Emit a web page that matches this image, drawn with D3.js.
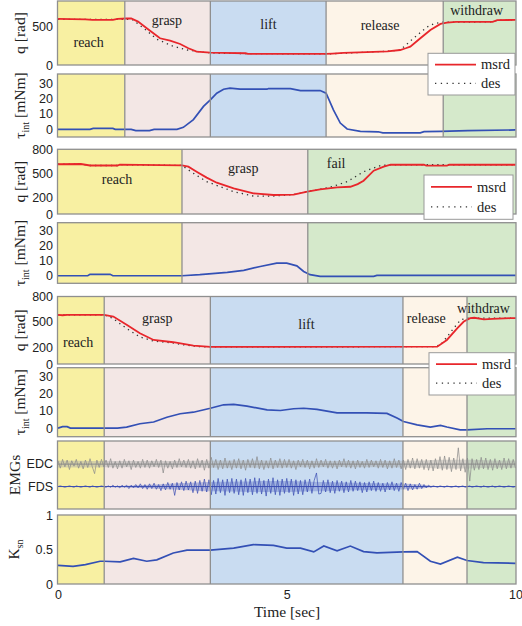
<!DOCTYPE html>
<html><head><meta charset="utf-8">
<script src="https://cdn.jsdelivr.net/npm/d3@7"></script>
<style>
html,body{margin:0;padding:0;background:#fff;}
svg{display:block;}
</style></head>
<body><svg id="c" width="522" height="626"></svg>
<script>
// ---------------- DATA ----------------
const timeTicks = [0, 5, 10];
const qTicksTop = [0, 500];
const qTicks = [0, 200, 500, 800];
const tauTicks = [0, 10, 20, 30];
const kTicks = [0, 0.5, 1];

const trial1Phases = [["reach",0,1.46],["grasp",1.46,3.33],["lift",3.33,5.86],["release",5.86,8.42],["withdraw",8.42,10]];
const trial2Phases = [["reach",0,2.71],["grasp",2.71,5.46],["fail",5.46,10]];
const trial3Phases = [["reach",0,1.01],["grasp",1.01,3.33],["lift",3.33,7.54],["release",7.54,8.94],["withdraw",8.94,10]];

const q1Msrd = [[0,605],[0.6,600],[0.75,592],[1.2,592],[1.3,605],[1.5,610],[1.6,612],[1.75,570],[1.94,483],[2.1,410],[2.23,351],[2.45,320],[2.67,276],[2.85,220],[3.03,175],[3.33,162],[3.6,158],[4.1,154],[4.15,145],[5.0,145],[5.86,145],[6.0,150],[6.24,160],[6.75,168],[7.2,180],[7.48,197],[7.6,220],[7.7,241],[7.92,351],[8.14,460],[8.36,540],[8.5,557],[8.7,566],[9.5,566],[9.6,588],[10,592]];
const q1Des = [[0,600],[1.5,600],[1.64,592],[1.9,470],[2.16,338],[2.5,250],[2.82,197],[3.18,167],[3.5,154],[4.15,150],[5.86,145],[6.75,168],[7.2,180],[7.48,197],[7.77,351],[8.07,500],[8.21,540],[8.4,562],[9.5,566],[9.6,588],[10,592]];
const q2Msrd = [[0,615],[0.5,618],[0.7,600],[1.3,600],[1.35,610],[2.71,600],[2.85,585],[3.03,523],[3.25,450],[3.47,387],[3.84,317],[4.27,256],[4.71,235],[5.15,240],[5.45,276],[5.73,305],[6.1,329],[6.39,337],[6.55,370],[6.68,412],[6.9,536],[7.12,585],[7.27,609],[8.0,609],[8.05,597],[8.5,597],[8.55,609],[10,609]];
const q2Des = [[0,615],[0.5,618],[0.7,600],[1.3,600],[1.35,610],[2.71,600],[2.96,503],[3.25,400],[3.84,276],[4.27,222],[4.71,222],[5.15,240],[5.45,276],[5.66,297],[6.0,340],[6.32,400],[6.68,523],[7.05,600],[7.3,609],[10,609]];
const q3Msrd = [[0,583],[0.1,578],[0.2,583],[1.01,583],[1.21,563],[1.5,464],[1.79,365],[2.09,285],[2.52,258],[2.96,218],[3.33,202],[8.29,206],[8.5,285],[8.73,424],[8.87,503],[9.01,543],[9.1,548],[9.31,530],[9.5,535],[9.9,543],[10,543]];
const q3Des = [[0,583],[1.01,583],[1.2,540],[1.5,420],[1.79,320],[2.1,270],[2.5,250],[2.7,230],[3.1,205],[3.33,202],[8.2,206],[8.36,225],[8.5,320],[8.65,424],[8.8,523],[8.94,543],[10,543]];

const tau1 = [[0,0],[0.7,0],[0.77,0.6],[1.2,0.6],[1.25,0],[1.6,0],[1.7,-0.8],[2.0,-0.8],[2.1,0],[2.6,0],[2.74,1.3],[2.96,6.3],[3.18,14.9],[3.33,19.2],[3.47,23.5],[3.62,26.1],[3.76,26.8],[3.98,26.1],[4.57,26.1],[4.6,26.5],[5.08,26.5],[5.3,25.2],[5.73,25.2],[5.86,23.5],[6.02,12.7],[6.17,4.1],[6.32,0.2],[6.61,-1.3],[7.0,-1.6],[7.1,-2.3],[7.92,-2.3],[8.0,-1.5],[8.37,-1.3],[8.96,-0.8],[10,-0.4]];
const tau2 = [[0,0],[0.65,0],[0.7,0.9],[1.14,0.9],[1.2,0],[2.71,0],[3.1,0.7],[3.7,2.2],[4.06,3.5],[4.42,6.1],[4.78,8.3],[5.0,8.3],[5.22,6.5],[5.37,2.8],[5.51,0.7],[5.73,-0.4],[6.9,-0.4],[6.97,0.2],[10,0.2]];
const tau3 = [[0,0],[0.1,0.8],[0.2,0.8],[0.27,0],[1.3,0],[1.5,0.6],[1.79,2.5],[2.09,3.5],[2.38,6.3],[2.67,8.3],[2.96,9.2],[3.33,11.5],[3.62,13.5],[3.84,13.7],[4.13,12.7],[4.57,10.6],[4.86,10.2],[5.15,11.2],[5.37,11.5],[5.66,10.8],[6.1,8.8],[6.75,8.8],[7.19,8.5],[7.41,5.8],[7.55,3.8],[7.85,1.9],[8.14,0.6],[8.36,1.5],[8.5,0.6],[8.79,-1],[8.94,-1],[9.38,-0.4],[10,-0.4]];

const kSn = [[0,0.27],[0.33,0.255],[0.6,0.28],[0.92,0.33],[1.01,0.33],[1.36,0.32],[1.65,0.37],[1.94,0.33],[2.16,0.35],[2.52,0.45],[2.82,0.49],[3.33,0.49],[3.84,0.52],[4.27,0.57],[4.71,0.56],[5.0,0.52],[5.3,0.52],[5.59,0.465],[5.81,0.55],[6.1,0.48],[6.39,0.55],[6.68,0.47],[6.97,0.45],[7.55,0.465],[7.85,0.47],[8.14,0.33],[8.36,0.29],[8.73,0.39],[8.94,0.34],[9.3,0.31],[10,0.3]];

// EMG: envelope (every 0.5 s) and sampled trace (every 0.05 s, hundredths of the panel height), read approximately
const emgEnvTime = [0,0.5,1,1.5,2,2.5,3,3.5,4,4.5,5,5.5,6,6.5,7,7.5,8,8.2,8.5,9,9.5,10];
const edcEnv = [0.05,0.05,0.045,0.045,0.045,0.045,0.05,0.055,0.055,0.055,0.05,0.045,0.045,0.045,0.045,0.05,0.055,0.06,0.065,0.065,0.055,0.055];
const fdsEnv = [0.004,0.004,0.006,0.012,0.025,0.045,0.06,0.07,0.075,0.08,0.08,0.07,0.065,0.055,0.05,0.045,0.025,0.008,0.004,0.004,0.004,0.004];
const edcTrace = [5,-6,7,-4,6,-8,5,-3,7,-6,4,-7,6,-5,8,-4,-14,6,-5,7,
 -4,6,-5,8,-6,4,-7,5,-6,7,-4,5,-8,6,-5,4,-6,7,-5,6,
 -6,5,-4,7,-5,6,-13,5,-6,4,-7,6,-5,8,-4,6,-5,7,-6,5,
 -7,8,-5,6,-9,7,-6,10,-5,7,-8,6,-7,9,-6,5,-8,7,-6,8,
 -7,6,-9,7,-5,8,-6,11,-7,6,-8,5,-6,9,-7,6,-5,8,-6,7,
 -5,7,-6,5,-8,6,-4,7,-5,6,-7,5,-6,8,-5,6,-4,7,-6,5,
 -6,5,-7,6,-4,8,-5,6,-6,5,-7,6,-5,4,-6,7,-5,6,-4,5,
 -6,7,-5,6,-7,5,-6,8,-5,6,-7,6,-8,7,-6,9,-7,8,-6,7,
 -8,7,-9,6,-10,8,-7,11,-9,12,-8,10,-11,9,-8,24,-10,8,-12,9,
 -25,8,-9,7,-8,10,-7,9,-8,7,-9,8,-7,6,-8,9,-7,8,-6,7,
 -6];
const fdsTrace = [0,1,0,-1,0,1,0,-1,1,0,-1,0,1,0,-1,1,0,-1,0,1,
 0,-1,1,-1,2,-1,1,-2,2,-1,2,-3,2,-2,3,-2,4,-3,3,-4,
 4,-3,5,-4,3,-6,4,-5,6,-4,5,-13,6,-5,7,-6,8,-5,7,-9,
 8,-10,9,-7,11,-8,10,-12,9,-11,12,-9,10,-13,11,-9,12,-10,11,-12,
 10,-13,12,-9,11,-12,13,-10,12,-11,9,-14,11,-10,13,-12,10,-13,11,-10,
 12,-9,11,-13,10,-11,9,-12,10,-8,11,-10,9,20,-11,-10,9,-8,10,-9,
 8,-10,9,-7,8,-9,7,-8,9,-7,8,-6,7,-9,6,-8,7,-6,8,-7,
 6,-7,5,-8,6,-5,7,-6,5,-7,6,-4,5,-6,4,-5,3,-4,5,-3,
 3,-2,2,-1,1,0,-1,1,0,-1,1,0,-1,0,1,-1,0,1,-1,0,
 1,-1,0,1,0,-1,1,0,-1,0,1,-1,0,1,0,-1,0,1,0,-1,
 0];
const emgTraceStep = 0.05, emgTraceUnit = 0.01;

// ---------------- STYLE / LAYOUT ----------------
const phaseColor = {reach:"#f8f0a2", grasp:"#f3e7e5", lift:"#c9dcf1", release:"#fdf4e8", withdraw:"#d5e9cb", fail:"#d5e9cb"};
const frameColor = "#8f8f8f";
const red = "#e8262b", blue = "#3350b5";
const SERIF = '"Liberation Serif","Times New Roman",serif';
const SANS = '"Liberation Sans",Arial,sans-serif';
const TICK_FS = 12.5;

const svg = d3.select("#c");
const x = d3.scaleLinear().domain([0,10]).range([58,515.5]);
const X0 = 57.5, X1 = 516;

const panels = [
 {top:1, bottom:65, dom:[0,840], ticks:qTicksTop, phases:trial1Phases, kind:"q", msrd:q1Msrd, des:q1Des},
 {top:74, bottom:137, dom:[-5,36], ticks:tauTicks, phases:trial1Phases, kind:"tau", data:tau1},
 {top:149.3, bottom:214, dom:[0,800], ticks:qTicks, phases:trial2Phases, kind:"q", msrd:q2Msrd, des:q2Des},
 {top:222.7, bottom:283.3, dom:[-5,35], ticks:tauTicks, phases:trial2Phases, kind:"tau", data:tau2},
 {top:296.5, bottom:364, dom:[0,800], ticks:qTicks, phases:trial3Phases, kind:"q", msrd:q3Msrd, des:q3Des},
 {top:367.7, bottom:436.7, dom:[-5,35], ticks:tauTicks, phases:trial3Phases, kind:"tau", data:tau3},
 {top:441, bottom:509, dom:[0,1], ticks:[], phases:trial3Phases, kind:"emg"},
 {top:515, bottom:584, dom:[0,1], ticks:kTicks, phases:trial3Phases, kind:"k", data:kSn}
];

const lineGen = (y) => d3.line().x(d=>x(d[0])).y(d=>y(d[1]));

panels.forEach((p,i) => {
  const y = d3.scaleLinear().domain(p.dom).range([p.bottom, p.top]);
  p.y = y;
  const g = svg.append("g");
  g.selectAll("rect.ph").data(p.phases).join("rect")
    .attr("x", d=> d[1]===0 ? X0 : x(d[1]))
    .attr("width", d=> (d[2]===10 ? X1 : x(d[2])) - (d[1]===0 ? X0 : x(d[1])))
    .attr("y", p.top).attr("height", p.bottom - p.top)
    .attr("fill", d=>phaseColor[d[0]]);
  if (p.ticks.length) {
    const ax = g.append("g").attr("transform",`translate(${X0},0)`)
      .call(d3.axisLeft(y).tickValues(p.ticks).tickSize(0).tickPadding(4.5).tickFormat(d3.format("~g")));
    ax.select(".domain").remove();
    ax.selectAll("text").attr("font-family",SANS).attr("font-size",TICK_FS).attr("fill","#222");
  }
  if (p.kind==="q") {
    g.append("path").datum(p.des).attr("d", lineGen(y)).attr("fill","none")
      .attr("stroke","#333").attr("stroke-width",1.3).attr("stroke-dasharray","1.3,4");
    g.append("path").datum(p.msrd).attr("d", lineGen(y)).attr("fill","none")
      .attr("stroke",red).attr("stroke-width",1.8);
  } else if (p.kind==="tau" || p.kind==="k") {
    g.append("path").datum(p.data).attr("d", lineGen(y)).attr("fill","none")
      .attr("stroke",blue).attr("stroke-width",1.7);
  } else if (p.kind==="emg") {
    const chans = [
      {env:edcEnv, trace:edcTrace, c:0.66, fill:"#a8a8a8", stroke:"#8a8a8a", name:"EDC"},
      {env:fdsEnv, trace:fdsTrace, c:0.33, fill:"#7080cc", stroke:"#3a4cb2", name:"FDS"}
    ];
    chans.forEach(ch => {
      const envPts = emgEnvTime.map((t,k)=>[t, ch.env[k]]);
      g.append("path").datum(envPts)
        .attr("d", d3.area().x(d=>x(d[0])).y0(d=>y(ch.c - d[1])).y1(d=>y(ch.c + d[1])).curve(d3.curveMonotoneX))
        .attr("fill", ch.fill).attr("opacity", 0.45);
      const tr = ch.trace.map((v,k)=>[k*emgTraceStep, ch.c + v*emgTraceUnit]);
      g.append("path").datum(tr).attr("d", lineGen(y)).attr("fill","none")
        .attr("stroke", ch.stroke).attr("stroke-width", 0.8).attr("opacity",0.9);
      g.append("path").datum([[0,ch.c],[10,ch.c]]).attr("d", lineGen(y)).attr("fill","none")
        .attr("stroke", ch.stroke).attr("stroke-width", 1);
      g.append("text").attr("x", 53).attr("y", y(ch.c)).attr("dy","0.35em")
        .attr("text-anchor","end").attr("font-family",SANS).attr("font-size",TICK_FS).attr("fill","#222").text(ch.name);
    });
  }
  g.selectAll("line.b").data(p.phases.slice(1)).join("line")
    .attr("x1", d=>x(d[1])).attr("x2", d=>x(d[1]))
    .attr("y1", p.top).attr("y2", p.bottom)
    .attr("stroke", frameColor).attr("stroke-width", 1.3);
  g.append("rect").attr("x",X0).attr("y",p.top).attr("width",X1-X0).attr("height",p.bottom-p.top)
    .attr("fill","none").attr("stroke",frameColor).attr("stroke-width",1.3);
});

// phase labels [panel index, text, time, value]
const phaseLabels = [
 [0,"reach",0.67,300],[0,"grasp",2.38,590],[0,"lift",4.6,530],[0,"release",7.04,525],[0,"withdraw",9.15,715],
 [2,"reach",1.29,430],[2,"grasp",4.05,560],[2,"fail",6.08,620],
 [4,"reach",0.44,260],[4,"grasp",2.17,545],[4,"lift",5.43,475],[4,"release",8.05,545],[4,"withdraw",9.3,665]
];
phaseLabels.forEach(l => {
  const p = panels[l[0]];
  svg.append("text").attr("x", x(l[2])).attr("y", p.y(l[3])).attr("dy","0.33em")
    .attr("text-anchor","middle").attr("font-family",SERIF).attr("font-size",14).attr("fill","#222").text(l[1]);
});

// y-axis titles
function yTitle(pi, parts, xc) {
  const p = panels[pi];
  const cy = (p.top + p.bottom)/2;
  const t = svg.append("text").attr("transform",`translate(${xc},${cy}) rotate(-90)`)
    .attr("text-anchor","middle").attr("font-family",SERIF).attr("font-size",15.5).attr("fill","#222");
  parts.forEach(pt => {
    const s = t.append("tspan").text(pt.t);
    if (pt.sub) s.attr("font-size",10).attr("dy", 4);
    if (pt.up) s.attr("dy", -4);
  });
}
[0,2,4].forEach(i => yTitle(i, [{t:"q [rad]"}], 25));
[1,3,5].forEach(i => yTitle(i, [{t:"τ"},{t:"int",sub:true},{t:" [mNm]",up:true}], 25));
yTitle(6, [{t:"EMGs"}], 19.5);
yTitle(7, [{t:"K"},{t:"sn",sub:true}], 18.5);

// x axis
const xa = svg.append("g").attr("transform",`translate(0,584)`)
  .call(d3.axisBottom(x).tickValues(timeTicks).tickSize(0).tickPadding(6.5));
xa.select(".domain").remove();
xa.selectAll("text").attr("font-family",SANS).attr("font-size",TICK_FS).attr("fill","#222");
svg.append("text").attr("x", 287).attr("y", 617).attr("text-anchor","middle")
  .attr("font-family",SERIF).attr("font-size",15.5).attr("fill","#222").text("Time [sec]");

// legends
const legends = [
 {x:428, y:53.3, w:87, h:41.7},
 {x:424, y:175, w:89, h:44.3},
 {x:429, y:352.7, w:86, h:42.3}
];
legends.forEach(L => {
  const g = svg.append("g").attr("transform",`translate(${L.x},${L.y})`);
  g.append("rect").attr("width",L.w).attr("height",L.h).attr("fill","#fff").attr("stroke","#999").attr("stroke-width",1);
  const r1 = L.h*0.27, r2 = L.h*0.72;
  g.append("line").attr("x1",7).attr("x2",48).attr("y1",r1).attr("y2",r1).attr("stroke",red).attr("stroke-width",1.8);
  g.append("line").attr("x1",7).attr("x2",48).attr("y1",r2).attr("y2",r2).attr("stroke","#333").attr("stroke-width",1.3).attr("stroke-dasharray","1.3,4.5");
  g.append("text").attr("x",53).attr("y",r1).attr("dy","0.33em").attr("font-family",SERIF).attr("font-size",14.5).attr("fill","#222").text("msrd");
  g.append("text").attr("x",53).attr("y",r2).attr("dy","0.33em").attr("font-family",SERIF).attr("font-size",14.5).attr("fill","#222").text("des");
});
</script></body></html>
